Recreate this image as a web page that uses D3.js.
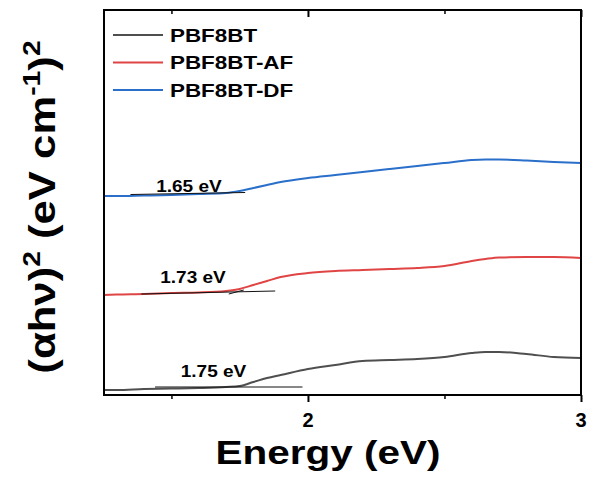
<!DOCTYPE html>
<html>
<head>
<meta charset="utf-8">
<script src="https://cdn.jsdelivr.net/npm/d3@7/dist/d3.min.js"></script>
<style>
  html, body { margin: 0; padding: 0; background: #fff; }
  svg { display: block; }
  text { font-family: "Liberation Sans", Arial, sans-serif; font-weight: bold; fill: #000; }
</style>
</head>
<body>
<svg id="chart" width="590" height="482"></svg>
<script>
// ---- data ----
const energy   = [1.25, 1.3, 1.4, 1.5, 1.6, 1.7, 1.75, 1.8, 1.85, 1.9, 2.0, 2.1, 2.2, 2.3, 2.4, 2.5, 2.6, 2.65, 2.7, 2.8, 2.9, 3.0];
const pbf8bt   = [5, 5, 6, 6.5, 7, 8, 9, 13, 17, 20, 26, 30, 34, 35, 36, 38, 42, 43, 43, 41, 38, 37];
const pbf8btAF = [100, 100.5, 101, 102, 102.5, 104, 106, 110, 114, 118, 122, 124, 125, 126, 127, 129, 134, 136, 137.5, 138, 138, 137];
const pbf8btDF = [199, 199, 199.5, 200, 201, 202, 204, 207, 210, 213, 217, 220, 223, 226, 229, 232, 235, 235.5, 235.5, 234.5, 233, 232];
const seriesNames = ["PBF8BT", "PBF8BT-AF", "PBF8BT-DF"];
const seriesColors = ["#4f4f4f", "#e04545", "#2a6fca"];
const gapLabels = ["1.75 eV", "1.73 eV", "1.65 eV"];
const gapLabelX = [1.654, 1.579, 1.564];
const gapLabelY = [18, 112, 203];
// tangent (extrapolation) segments: [E1, v1, E2, v2]
const tangents = [
  [1.44, 8, 1.98, 8],
  [1.39, 101, 1.88, 104],
  [1.71, 101, 1.765, 105],
  [1.35, 200.5, 1.77, 202.5]
];
const xTicksMajor = [2, 3];
const xTicksMinor = [1.5, 2.5];

// ---- layout ----
const W = 590, H = 482;
const m = { left: 104, right: 9, top: 10, bottom: 87 };
const svg = d3.select("#chart");
const x = d3.scaleLinear().domain([1.253, 3.0]).range([m.left, W - m.right]);
const y = d3.scaleLinear().domain([0, 385]).range([H - m.bottom, m.top]);
const TX = 1.18; // horizontal text widening

const series = [pbf8bt, pbf8btAF, pbf8btDF];
const line = d3.line().x(d => x(d[0])).y(d => y(d[1])).curve(d3.curveMonotoneX);

const plot = svg.append("g");
series.forEach((s, i) => {
  plot.append("path")
    .datum(energy.map((e, j) => [e, s[j]]))
    .attr("d", line)
    .attr("fill", "none")
    .attr("stroke", seriesColors[i])
    .attr("stroke-width", 2);
});

plot.selectAll("line.tan").data(tangents).enter().append("line")
  .attr("class", "tan")
  .attr("x1", d => x(d[0])).attr("y1", d => y(d[1]))
  .attr("x2", d => x(d[2])).attr("y2", d => y(d[3]))
  .attr("stroke", "#111").attr("stroke-width", 1);

gapLabels.forEach((t, i) => {
  svg.append("text")
    .attr("transform", `translate(${x(gapLabelX[i])},${y(gapLabelY[i])}) scale(1.12,1)`)
    .attr("text-anchor", "middle")
    .attr("font-size", 17)
    .text(t);
});

// ---- axes / frame ----
function styleTicks(g, w) {
  g.select(".domain").remove();
  g.selectAll(".tick line").attr("stroke", "#000").attr("stroke-width", w);
}
const gB = svg.append("g").attr("transform", `translate(0,${H - m.bottom})`)
  .call(d3.axisBottom(x).tickValues(xTicksMajor).tickSize(7).tickFormat(""));
styleTicks(gB, 2);
const gBm = svg.append("g").attr("transform", `translate(0,${H - m.bottom})`)
  .call(d3.axisBottom(x).tickValues(xTicksMinor).tickSize(4).tickFormat(""));
styleTicks(gBm, 1.5);
const gT = svg.append("g").attr("transform", `translate(0,${m.top})`)
  .call(d3.axisBottom(x).tickValues(xTicksMajor).tickSize(7).tickFormat(""));
styleTicks(gT, 2);
const gTm = svg.append("g").attr("transform", `translate(0,${m.top})`)
  .call(d3.axisBottom(x).tickValues(xTicksMinor).tickSize(4).tickFormat(""));
styleTicks(gTm, 1.5);

svg.selectAll("text.xtick").data(xTicksMajor).enter().append("text")
  .attr("class", "xtick")
  .attr("x", d => x(d)).attr("y", 427)
  .attr("text-anchor", "middle")
  .attr("font-size", 20)
  .text(d3.format("d"));

svg.append("rect")
  .attr("x", m.left).attr("y", m.top)
  .attr("width", W - m.left - m.right).attr("height", H - m.top - m.bottom)
  .attr("fill", "none").attr("stroke", "#000").attr("stroke-width", 2);

// ---- axis titles ----
svg.append("text")
  .attr("transform", `translate(328,464) scale(${TX * 1.04},1)`)
  .attr("text-anchor", "middle")
  .attr("font-size", 33)
  .text("Energy (eV)");

const yl = svg.append("text")
  .attr("transform", `translate(55,207) rotate(-90) scale(${TX},1)`)
  .attr("text-anchor", "middle")
  .attr("font-size", 37);
yl.append("tspan").text("(αhν)");
yl.append("tspan").attr("font-size", 24).attr("dy", -15).text("2");
yl.append("tspan").attr("dy", 15).text(" (eV cm");
yl.append("tspan").attr("font-size", 24).attr("dy", -15).text("-1");
yl.append("tspan").attr("dy", 15).text(")");
yl.append("tspan").attr("font-size", 24).attr("dy", -15).text("2");

// ---- legend ----
const legY = [35, 62.5, 90];
seriesNames.forEach((n, i) => {
  svg.append("line")
    .attr("x1", 113).attr("x2", 163)
    .attr("y1", legY[i]).attr("y2", legY[i])
    .attr("stroke", seriesColors[i]).attr("stroke-width", 2);
  svg.append("text")
    .attr("transform", `translate(170,${legY[i] + 6.8}) scale(1.18,1)`)
    .attr("font-size", 19)
    .text(n);
});
</script>
</body>
</html>
